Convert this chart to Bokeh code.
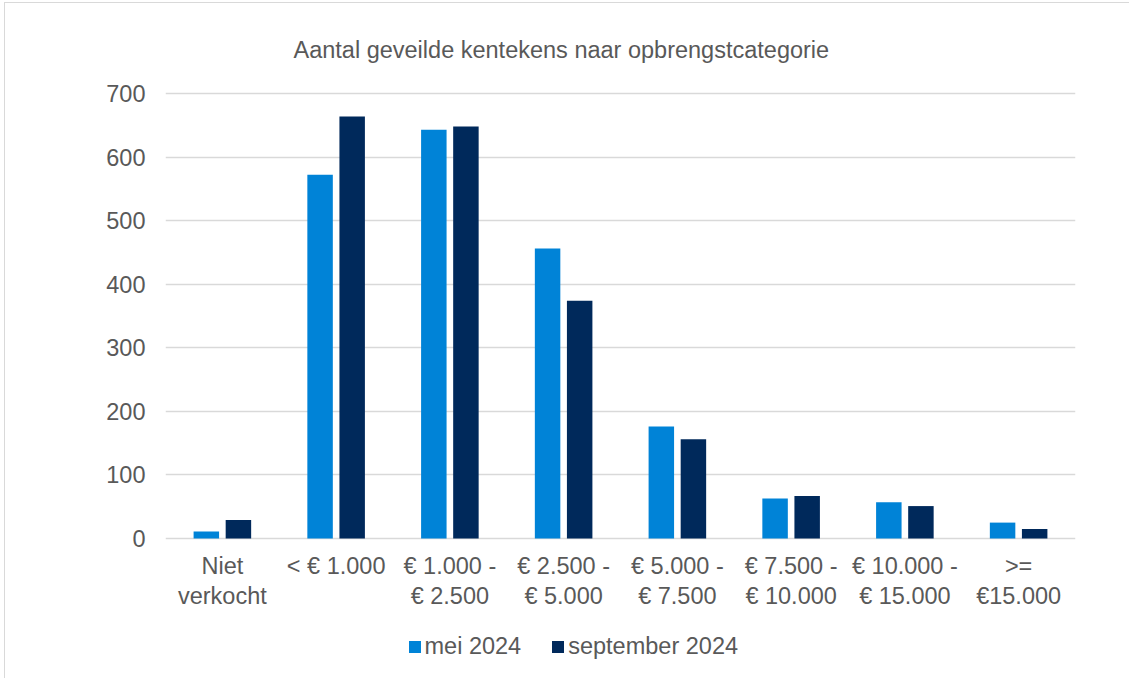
from bokeh.plotting import figure
from bokeh.models import (FactorRange, Range1d, Legend, LegendItem, Label, ColumnDataSource,
                          FixedTicker)
from bokeh.transform import dodge
from bokeh.core.properties import value
from bokeh.embed import file_html
from bokeh.resources import INLINE

categories = ["Niet\nverkocht", "< € 1.000", "€ 1.000 -\n€ 2.500", "€ 2.500 -\n€ 5.000",
              "€ 5.000 -\n€ 7.500", "€ 7.500 -\n€ 10.000", "€ 10.000 -\n€ 15.000", ">=\n€15.000"]
mei_2024 = [11, 572, 643, 456, 176, 63, 57, 25]
sep_2024 = [29, 664, 648, 374, 156, 67, 51, 15]
y_ticks = [0, 100, 200, 300, 400, 500, 600, 700]
series_names = ["mei 2024", "september 2024"]
title_text = "Aantal geveilde kentekens naar opbrengstcategorie"

FONT = "Liberation Sans"
TXT = "#595959"
C_MEI = "#0083D7"
C_SEP = "#00295B"

# layout constants (page pixels)
OX, OY = 5, 3          # figure offset inside the light chart border
W = 1130 - OX
H = 679 - OY
Y0_PX = 538 - OY       # figure-local y of value 0
Y700_PX = 93 - OY      # figure-local y of value 700
k = (Y0_PX - Y700_PX) / 700.0
y_top = Y0_PX / k
y_bot = -(H - Y0_PX) / k

src = ColumnDataSource(dict(cat=categories, mei=mei_2024, sep=sep_2024))

p = figure(width=W, height=H, x_range=FactorRange(*categories, range_padding=0),
           y_range=Range1d(y_bot, y_top), output_backend="svg", toolbar_location=None,
           min_border_left=165 - OX, min_border_right=W - (1075 - OX),
           min_border_top=0, min_border_bottom=0,
           styles={"margin-left": "4px", "margin-top": "2px",
                   "border-left": "1px solid #d9d9d9", "border-top": "1px solid #d9d9d9"})
p.outline_line_color = None
p.background_fill_color = "white"
p.border_fill_color = "white"

r1 = p.vbar(x=dodge("cat", -0.141, range=p.x_range), top="mei", width=0.224, source=src,
            fill_color=C_MEI, line_color=None)
r2 = p.vbar(x=dodge("cat", 0.141, range=p.x_range), top="sep", width=0.224, source=src,
            fill_color=C_SEP, line_color=None)

p.xaxis.visible = False
p.xgrid.grid_line_color = None
p.ygrid.grid_line_color = "#d9d9d9"
p.ygrid.grid_line_width = 1.3

p.yaxis.ticker = FixedTicker(ticks=y_ticks)
ax = p.yaxis[0]
ax.axis_line_color = None
ax.major_tick_line_color = None
ax.minor_tick_line_color = None
ax.major_label_text_font = FONT
ax.major_label_text_font_size = "23.5px"
ax.major_label_text_color = TXT
ax.major_label_standoff = 14

# category labels under the bars
lab_y = -(552 - 538) / k
p.text(x="cat", y=lab_y, text="cat", source=src, text_align="center", text_baseline="top",
       text_font=value(FONT), text_font_size="23.5px", text_color=TXT, text_line_height=1.19)

title = Label(x=293 - 165, y=(H + OY) - 49, x_units="screen", y_units="screen", text=title_text,
              text_align="left", text_baseline="alphabetic", text_font=FONT,
              text_font_size="23.5px", text_color=TXT)
p.add_layout(title)

legend = Legend(items=[LegendItem(label=series_names[0], renderers=[r1]),
                       LegendItem(label=series_names[1], renderers=[r2])],
                location=(241.5, (H + OY) - 659.5), orientation="horizontal",
                glyph_width=15, glyph_height=15, label_standoff=3, spacing=29,
                padding=0, margin=0, border_line_color=None, background_fill_alpha=0,
                label_text_font=FONT, label_text_font_size="23.5px", label_text_color=TXT,
                label_height=24)
p.add_layout(legend, "center")

open("out.html", "w").write(file_html(p, INLINE))
